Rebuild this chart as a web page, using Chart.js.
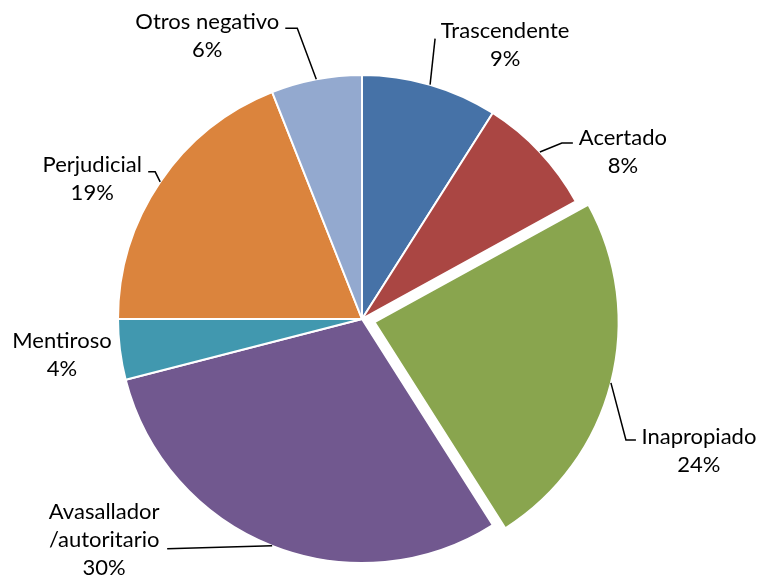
<!DOCTYPE html>
<html>
<head>
<meta charset="utf-8">
<script src="https://cdn.jsdelivr.net/npm/chart.js@4"></script>
<style>
  body { margin: 0; background: #fff; }
</style>
</head>
<body>
<canvas id="mycanvas" width="760" height="581"></canvas>
<script>
var categories = ['Trascendente', 'Acertado', 'Inapropiado', 'Avasallador\n/autoritario', 'Mentiroso', 'Perjudicial', 'Otros negativo'];
var percents = [9, 8, 24, 30, 4, 19, 6];
var colors = ['#4672A7', '#AA4643', '#89A54E', '#71588F', '#4198AF', '#DB843D', '#93A9CF'];
// chart.js moves an arc by offset/4 px
var explode = [0, 0, 52, 0, 0, 0, 0];

// label text position + leader points, relative to the slice's outer edge
var labelPos = [
  { t: [75, -54], lead: [[5, -46]] },
  { t: [83, -14], lead: [[22, -9], [33, -9]] },
  { t: [88, 54], lead: [[15, 57], [25, 57]] },
  { t: [-168, -34], lead: [[-105, 3]] },
  { t: [-58, -9], lead: [] },
  { t: [-68, -17], lead: [[-5, -10], [-12, -10]] },
  { t: [-109, -57], lead: [[-19, -51], [-31, -51]] }
];

var labelsPlugin = {
  id: 'outLabels',
  afterDatasetsDraw: function(chart) {
    var ctx = chart.ctx;
    var meta = chart.getDatasetMeta(0);
    ctx.save();
    ctx.font = '22px Lato';
    ctx.fillStyle = '#000';
    ctx.strokeStyle = '#000';
    ctx.lineWidth = 1.5;
    ctx.textAlign = 'center';
    ctx.textBaseline = 'middle';
    for (var i = 0; i < meta.data.length; i++) {
      var arc = meta.data[i];
      var p = arc.getProps(['x', 'y', 'startAngle', 'endAngle', 'outerRadius'], true);
      var mid = (p.startAngle + p.endAngle) / 2;
      var r = p.outerRadius + explode[i] / 4;
      var ex = p.x + Math.cos(mid) * r;
      var ey = p.y + Math.sin(mid) * r;
      var lp = labelPos[i];
      if (lp.lead.length) {
        ctx.beginPath();
        ctx.moveTo(ex, ey);
        for (var k = 0; k < lp.lead.length; k++) {
          ctx.lineTo(ex + lp.lead[k][0], ey + lp.lead[k][1]);
        }
        ctx.stroke();
      }
      var lines = categories[i].split('\n');
      lines.push(percents[i] + '%');
      for (var j = 0; j < lines.length; j++) {
        ctx.fillText(lines[j], ex + lp.t[0], ey + lp.t[1] + j * 28);
      }
    }
    ctx.restore();
  }
};

var chartdata = {
  labels: categories,
  datasets: [{
    data: percents,
    backgroundColor: colors,
    borderColor: '#ffffff',
    borderWidth: 2,
    offset: explode
  }]
};

var ctx = document.getElementById('mycanvas');
var pieGraph = new Chart(ctx, {
  type: 'pie',
  data: chartdata,
  plugins: [labelsPlugin],
  options: {
    responsive: false,
    animation: false,
    radius: 244,
    layout: { padding: { left: 0, right: 36, top: 57, bottom: 0 } },
    plugins: {
      legend: { display: false },
      tooltip: { enabled: false }
    }
  }
});
</script>
</body>
</html>
